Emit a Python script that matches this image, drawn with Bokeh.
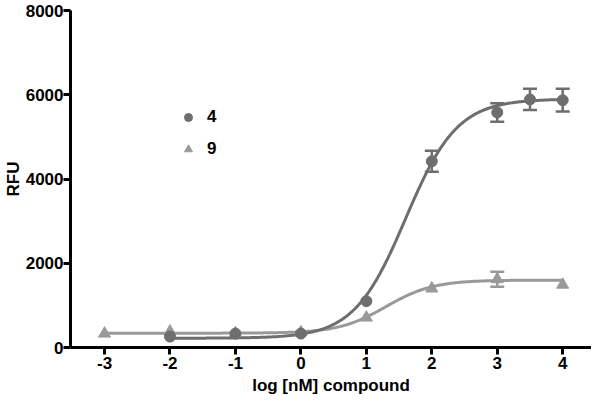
import numpy as np
from bokeh.plotting import figure
from bokeh.models import Range1d, Whisker, TeeHead, ColumnDataSource, Legend, LegendItem, FixedTicker
from bokeh.embed import file_html
from bokeh.resources import INLINE

# ---- data ----
x4 = [-2, -1, 0, 1, 2, 3, 3.5, 4]
y4 = [260, 330, 330, 1100, 4420, 5580, 5890, 5870]
err4 = [0, 0, 0, 0, 250, 220, 250, 270]

x9 = [-3, -2, -1, 0, 1, 2, 3, 4]
y9 = [330, 380, 340, 360, 710, 1400, 1620, 1490]
err9 = [0, 0, 0, 0, 0, 0, 180, 0]

# 4-parameter logistic fit parameters (bottom, top, logEC50, hill)
fit4 = dict(bottom=220, top=5900, logec50=1.60, hill=1.10, xmin=-2, xmax=4)
fit9 = dict(bottom=340, top=1600, logec50=1.30, hill=1.20, xmin=-3, xmax=4)

x_ticks = [-3, -2, -1, 0, 1, 2, 3, 4]
x_tick_labels = ["-3", "-2", "-1", "0", "1", "2", "3", "4"]
y_ticks = [0, 2000, 4000, 6000, 8000]

C4 = "#6e6e6e"
C9 = "#999999"
FONT = "Liberation Sans"


def fit_curve(f):
    xs = np.linspace(f["xmin"], f["xmax"], 300)
    ys = f["bottom"] + (f["top"] - f["bottom"]) / (1 + 10 ** (f["hill"] * (f["logec50"] - xs)))
    return xs, ys


p = figure(frame_width=521, frame_height=337, output_backend="svg", toolbar_location=None,
           x_range=Range1d(-3.52, 4.44), y_range=Range1d(0, 8000),
           min_border_left=66, min_border_right=0, min_border_top=10, min_border_bottom=40)
p.outline_line_color = None
p.grid.visible = False

# curves
cx4, cy4 = fit_curve(fit4)
cx9, cy9 = fit_curve(fit9)
p.line(cx9, cy9, line_color=C9, line_width=3)
p.line(cx4, cy4, line_color=C4, line_width=3)

# error bars
def add_err(xs, ys, es, color):
    src = ColumnDataSource(dict(x=[a for a, e in zip(xs, es) if e > 0],
                                up=[y + e for y, e in zip(ys, es) if e > 0],
                                lo=[y - e for y, e in zip(ys, es) if e > 0]))
    w = Whisker(source=src, base="x", upper="up", lower="lo", line_color=color, line_width=2.5,
                upper_head=TeeHead(size=14, line_color=color, line_width=2.5),
                lower_head=TeeHead(size=14, line_color=color, line_width=2.5))
    p.add_layout(w)

add_err(x9, y9, err9, C9)
add_err(x4, y4, err4, C4)

r9 = p.scatter(x9, y9, marker="triangle", size=12, fill_color=C9, line_color=C9)
r4 = p.scatter(x4, y4, marker="circle", size=11, fill_color=C4, line_color=C4)

legend = Legend(items=[LegendItem(label="4", renderers=[r4]), LegendItem(label="9", renderers=[r9])],
                location=(108, 188), padding=0, margin=0, spacing=12, glyph_width=20, glyph_height=20,
                label_standoff=9, border_line_color=None, background_fill_alpha=0,
                label_text_font=FONT, label_text_font_style="bold", label_text_font_size="17px",
                label_text_color="black")
p.add_layout(legend)

for ax in (p.xaxis, p.yaxis):
    ax.axis_line_width = 3
    ax.axis_line_color = "black"
    ax.major_tick_line_width = 3
    ax.major_tick_line_color = "black"
    ax.major_tick_out = 7
    ax.major_tick_in = 0
    ax.minor_tick_line_color = None
    ax.major_label_text_font = FONT
    ax.major_label_text_font_style = "bold"
    ax.major_label_text_font_size = "17px"
    ax.major_label_text_color = "black"
    ax.axis_label_text_font = FONT
    ax.axis_label_text_font_style = "bold"
    ax.axis_label_text_font_size = "17px"
    ax.axis_label_text_color = "black"

p.xaxis.ticker = FixedTicker(ticks=x_ticks)
p.xaxis.major_label_overrides = {t: s for t, s in zip(x_ticks, x_tick_labels)}
p.yaxis.ticker = FixedTicker(ticks=y_ticks)
p.xaxis.axis_label = "log [nM] compound"
p.yaxis.axis_label = "RFU"
p.xaxis.major_label_standoff = 2
p.yaxis.major_label_standoff = 0
p.xaxis.axis_label_standoff = 4
p.yaxis.axis_label_standoff = 0

open("out.html", "w").write(file_html(p, INLINE))
